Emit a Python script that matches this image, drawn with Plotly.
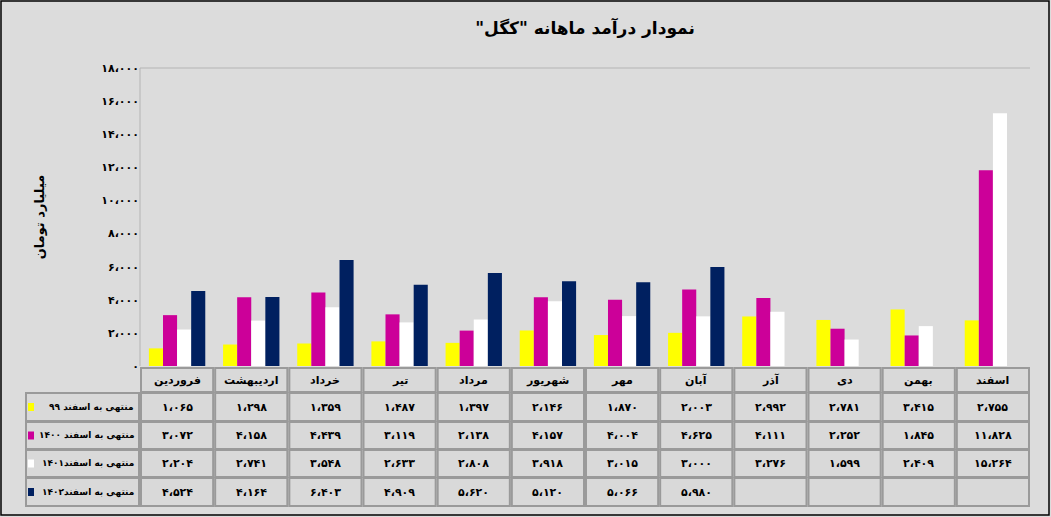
import plotly.graph_objects as go

months = ["فروردین","اردیبهشت","خرداد","تیر","مرداد","شهریور","مهر","آبان","آذر","دی","بهمن","اسفند"]
series_names = ["منتهی به اسفند ۹۹","منتهی به اسفند ۱۴۰۰","منتهی به اسفند۱۴۰۱","منتهی به اسفند۱۴۰۲"]
s99 = [1065,1298,1359,1487,1397,2146,1870,2003,2992,2781,3415,2755]
s1400 = [3072,4158,4439,3119,2138,4157,4004,4625,4111,2252,1845,11828]
s1401 = [2204,2741,3548,2633,2808,3918,3015,3000,3276,1599,2409,15264]
s1402 = [4524,4164,6403,4909,5620,5120,5066,5980,None,None,None,None]
colors = ["#FFFF00","#CC0099","#FFFFFF","#002060"]
yticks = list(range(0,18001,2000))

FA = str.maketrans("0123456789","۰۱۲۳۴۵۶۷۸۹")
def fa(n):
    return f"{n:,}".replace(",","،").translate(FA)

W,H = 1051,517
L,R,T,B = 140,1030,68,366
def px(x): return (x-L)/(R-L)
def py(y): return (B-y)/(B-T)

FONT = "DejaVu Sans"
RLM = "\u200F"
fig = go.Figure()
for name,vals,c in zip(series_names,[s99,s1400,s1401,s1402],colors):
    fig.add_bar(x=months,y=vals,name=name,marker=dict(color=c,line=dict(width=0)))

shapes=[]; ann=[]
shapes.append(dict(type="rect",xref="paper",yref="paper",x0=px(1),x1=px(W-2),y0=py(H-2),y1=py(1),line=dict(color="black",width=1.5),layer="below"))
shapes.append(dict(type="line",xref="paper",yref="paper",x0=0,x1=1,y0=1,y1=1,line=dict(color="#b4b4b4",width=1)))
shapes.append(dict(type="line",xref="paper",yref="paper",x0=0,x1=0,y0=0,y1=1,line=dict(color="#b4b4b4",width=1)))
colw=(R-L)/12
rows=[(368,392),(393,421),(422,449),(450,477),(478,506)]
def cell(x0,x1,y0,y1,text,size=11):
    shapes.append(dict(type="rect",xref="paper",yref="paper",x0=px(x0+1),x1=px(x1-1),y0=py(y1),y1=py(y0),
                       fillcolor="#d9d9d9",line=dict(color="#9a9a9a",width=2)))
    if text:
        ann.append(dict(xref="paper",yref="paper",x=px((x0+x1)/2),y=py((y0+y1)/2),xanchor="center",yanchor="middle",
                        text=f"<b>{text}</b>",showarrow=False,font=dict(family=FONT,size=size,color="black")))
for i,m in enumerate(months):
    cell(L+i*colw,L+(i+1)*colw,*rows[0],m)
for r,(vals,name,c) in enumerate(zip([s99,s1400,s1401,s1402],series_names,colors)):
    y0,y1=rows[r+1]
    cell(25,L,y0,y1,None)
    ann.append(dict(xref="paper",yref="paper",x=px(L-4),y=py((y0+y1)/2),xanchor="right",yanchor="middle",
                    text=f"<b>{RLM}{name}{RLM}</b>",showarrow=False,font=dict(family=FONT,size=9,color="black")))
    shapes.append(dict(type="rect",xref="paper",yref="paper",x0=px(28),x1=px(34),y0=py((y0+y1)/2+4),y1=py((y0+y1)/2-4),
                       fillcolor=c,line=dict(width=0)))
    for i,v in enumerate(vals):
        cell(L+i*colw,L+(i+1)*colw,y0,y1,fa(v) if v is not None else None)

fig.update_layout(
    width=W,height=H,margin=dict(l=L,r=W-R,t=T,b=H-B,autoexpand=False),
    paper_bgcolor="#dcdcdc",plot_bgcolor="#dcdcdc",
    barmode="group",bargap=0.24,bargroupgap=0,showlegend=False,
    title=dict(text=f"<b>{RLM}نمودار درآمد ماهانه \"کگل\"{RLM}</b>",x=0.5,xanchor="center",xref="paper",y=0.945,yanchor="middle",
               font=dict(family=FONT,size=17,color="black")),
    xaxis=dict(showticklabels=False,showgrid=False,zeroline=False,showline=False,ticks="",automargin=False),
    yaxis=dict(range=[0,18000],tickvals=yticks,ticktext=[f"<b>{fa(v)}</b>" for v in yticks],showgrid=False,zeroline=False,automargin=False,
               showline=False,tickfont=dict(family=FONT,size=11,color="black"),ticks="",
               title=dict(text="<b>میلیارد تومان</b>",font=dict(family=FONT,size=13,color="black"),standoff=53)),
    shapes=shapes,annotations=ann,
)
fig.write_html("out.html",config={"displayModeBar":False},
               post_script="document.body.style.margin='0';document.body.style.overflow='hidden';")
